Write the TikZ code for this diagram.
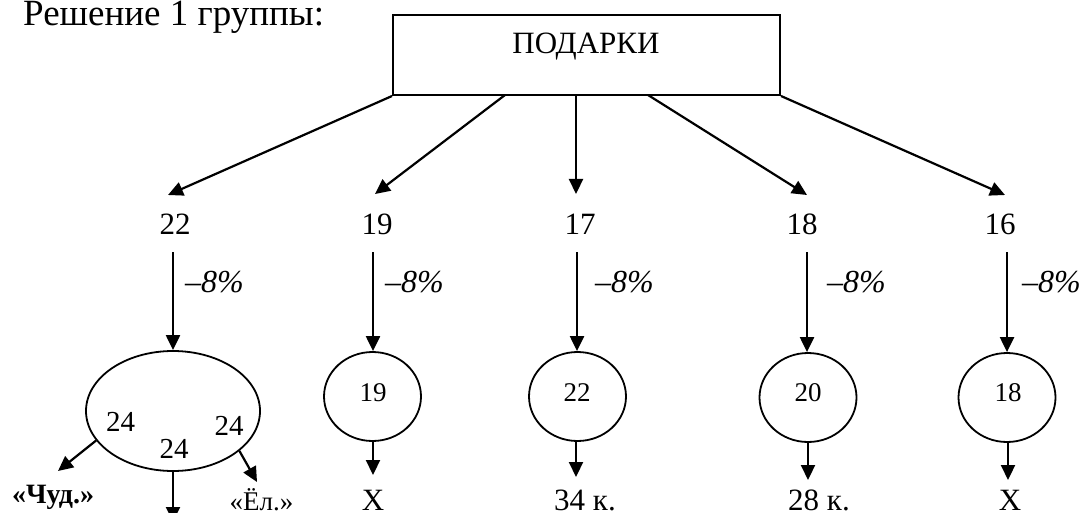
\documentclass[tikz,border=0pt]{standalone}
\usepackage{fontspec}
\setmainfont{Liberation Serif}
\usetikzlibrary{arrows.meta,shapes.geometric}
\tikzset{
  arr/.style={line width=2.2pt,-{Triangle[length=15pt,width=14pt]}},
  big/.style={font=\fontsize{31}{36}\selectfont,inner sep=0pt},
  mid/.style={font=\fontsize{29}{34}\selectfont,inner sep=0pt},
  small/.style={font=\fontsize{27}{32}\selectfont,inner sep=0pt},
  pct/.style={font=\fontsize{32}{37}\selectfont\itshape,inner sep=0pt,anchor=base west},
  circ/.style={draw,line width=1.8pt,ellipse,minimum width=97pt,minimum height=89pt,inner sep=0pt},
}
\begin{document}
\begin{tikzpicture}[x=1pt,y=-1pt]
\clip (0,0) rectangle (1083,513);
% title
\node[font=\fontsize{37}{42}\selectfont,inner sep=0pt,anchor=base west] (title) at (23,26) {Решение 1 группы:};
% box
\node[draw,line width=2pt,minimum width=387pt,minimum height=80pt,inner sep=0pt] (box) at (586.5,55) {};
\node[big,anchor=base] (boxlabel) at (586,54) {ПОДАРКИ};
% start points on box bottom
\coordinate (b2) at (505,95);
\coordinate (b3) at (576,95);
\coordinate (b4) at (648,95);
% tips
\coordinate (t1) at (168,195);
\coordinate (t2) at (375,194);
\coordinate (t3) at (576,194);
\coordinate (t4) at (807,195);
\coordinate (t5) at (1005,195);
\draw[arr] (box.south west) -- (t1);
\draw[arr] (b2) -- (t2);
\draw[arr] (b3) -- (t3);
\draw[arr] (b4) -- (t4);
\draw[arr] (box.south east) -- (t5);
% numbers
\node[big,anchor=base] (n1) at (175,234) {22};
\node[big,anchor=base] (n2) at (377,234) {19};
\node[big,anchor=base] (n3) at (580,234) {17};
\node[big,anchor=base] (n4) at (802,234) {18};
\node[big,anchor=base] (n5) at (1000,234) {16};
% shapes
\node[draw,line width=1.8pt,ellipse,minimum width=174pt,minimum height=120pt,inner sep=0pt] (e1) at (173,411) {};
\node[circ] (c2) at (372.5,396.5) {};
\node[circ] (c3) at (577.5,396.5) {};
\node[circ] (c4) at (808,397.5) {};
\node[circ] (c5) at (1007,397.5) {};
% vertical arrows starts
\coordinate (v1) at (173,252);
\coordinate (v2) at (373,252);
\coordinate (v3) at (577,252);
\coordinate (v4) at (807,252);
\coordinate (v5) at (1007,252);
\draw[arr] (v1) -- (e1.north);
\draw[arr] (v2) -- (v2 |- c2.north);
\draw[arr] (v3) -- (v3 |- c3.north);
\draw[arr] (v4) -- (v4 |- c4.north);
\draw[arr] (v5) -- (v5 |- c5.north);
% percent labels
\node[pct] (p1) at (185,292) {–8\%};
\node[pct] (p2) at (385,292) {–8\%};
\node[pct] (p3) at (595,292) {–8\%};
\node[pct] (p4) at (827,292) {–8\%};
\node[pct] (p5) at (1022,292) {–8\%};
% inner numbers
\node[mid,anchor=base] (e1a) at (120.5,431) {24};
\node[mid,anchor=base] (e1b) at (174,458) {24};
\node[mid,anchor=base] (e1c) at (229,435) {24};
\node[small,anchor=base] (c2t) at (373,401) {19};
\node[small,anchor=base] (c3t) at (577,401) {22};
\node[small,anchor=base] (c4t) at (808,401) {20};
\node[small,anchor=base] (c5t) at (1008,401) {18};
% bottom labels
\node[font=\fontsize{28}{32}\selectfont\bfseries,inner sep=0pt,anchor=base] (chud) at (53,503) {«Чуд.»};
\node[font=\fontsize{27}{31}\selectfont,inner sep=0pt,anchor=base] (el) at (261.5,510) {«Ёл.»};
\node[big,anchor=base] (x2) at (373,510) {X};
\node[big,anchor=base] (k3) at (585,510) {34 к.};
\node[big,anchor=base] (k4) at (819,510) {28 к.};
\node[big,anchor=base] (x5) at (1010,510) {X};
% ellipse outputs
\coordinate (le) at (58,471);
\coordinate (re) at (257,482);
\coordinate (me) at (173,522);
\draw[arr] (e1.201) -- (le);
\draw[arr] (e1.329) -- (re);
\draw[arr] (e1.south) -- (me);
% circle outputs
\coordinate (o2) at (373,475);
\coordinate (o3) at (576,477);
\coordinate (o4) at (808,480);
\coordinate (o5) at (1008,480);
\draw[arr] (o2 |- c2.south) -- (o2);
\draw[arr] (o3 |- c3.south) -- (o3);
\draw[arr] (o4 |- c4.south) -- (o4);
\draw[arr] (o5 |- c5.south) -- (o5);
\end{tikzpicture}
\end{document}
